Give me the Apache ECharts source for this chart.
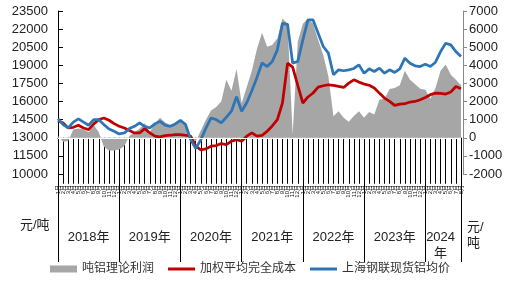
<!DOCTYPE html>
<html>
<head>
<meta charset="utf-8">
<script src="https://cdn.jsdelivr.net/npm/echarts@6/dist/echarts.min.js"></script>
<style>html,body{margin:0;padding:0;background:#fff}#c{width:511px;height:285px}</style>
</head>
<body>
<div id="c"></div>
<script>
// categories: monthly, 2018-01 .. 2024-08
const startYear = 2018, monthCount = 80;
const categories = [];
for (let k = 0; k < monthCount; k++) {
  const y = startYear + Math.floor(k / 12), m = (k % 12) + 1;
  categories.push(y + '-' + (m < 10 ? '0' + m : m));
}
const yearLabels = ['2018年', '2019年', '2020年', '2021年', '2022年', '2023年', '2024\n年'];
const leftTicks = { min: 10000, max: 23500, step: 1500 };
const rightTicks = { min: -2000, max: 7000, step: 1000 };

// 吨铝理论利润 (right axis)
const profit = [
  100, -220, -180, 460, 510, 460, 310, 700, 300, -500, -700, -700, -650, -450, 100, 300, 500, 800, 300, 800,
  1100, 850, 700, 750, 900, 850, 100, -200, 400, 1000, 1500, 1700, 2000, 3200, 2600, 3800, 1900, 2800, 3700, 4900,
  5800, 5030, 5120, 5490, 6590, 6300, 200, 5300, 6300, 6590, 6300, 5400, 4570, 3400, 1190, 1460, 1100, 880, 1200, 1460,
  1100, 1430, 1280, 2100, 2160, 2700, 2750, 2900, 3700, 3200, 2960, 2710, 2650, 2160, 2750, 3700, 4050, 3480, 3200, 2900
];
// 加权平均完全成本 (left axis)
const cost = [
  14420, 14230, 13815, 13870, 14040, 13815, 13680, 14150, 14500, 14640, 14450, 14170, 13950, 13815, 13600, 13400, 13400, 13760, 13400, 13130,
  13080, 13180, 13210, 13260, 13260, 13210, 13130, 12300, 12000, 12080, 12300, 12350, 12520, 12440, 12710, 12850, 12710, 13130, 13400, 13130,
  13200, 13540, 13980, 14500, 15880, 19180, 18850, 17340, 15880, 16380, 16710, 17200, 17310, 17390, 17340, 17250, 17170, 17530, 17800, 17610,
  17450, 17350, 17120, 16700, 16290, 16010, 15680, 15790, 15820, 15960, 16010, 16150, 16340, 16570, 16700, 16670, 16620, 16790, 17250, 17060
];
// 上海钢联现货铝均价 (left axis)
const price = [
  14560, 14090, 13815, 14300, 14560, 14300, 14040, 14500, 14500, 14090, 13730, 13540, 13320, 13400, 13760, 13950, 14230, 13950, 13815, 14150,
  14360, 14040, 13950, 14150, 14450, 14100, 12850, 12100, 12850, 13800, 14640, 14500, 14230, 14700, 15200, 16400, 15200, 15900, 16900, 18000,
  19200, 18900, 19320, 20280, 22480, 22400, 19180, 19320, 21110, 22760, 22760, 21660, 20560, 20010, 18220, 18630, 18550, 18630, 18740, 19040,
  18350, 18710, 18490, 18770, 18350, 18630, 18410, 18710, 19590, 19180, 18960, 18900, 19100, 18900, 19260, 20140, 20830, 20690, 20140, 19730
];

const FONT = '"Liberation Sans", Arial, "Noto Sans CJK SC", sans-serif';
const LINE_ICON = 'path://M0,0 L27,0 L27,3 L0,3 Z';
const plain = function (v) { return String(v); };
const chart = echarts.init(document.getElementById('c'), null, { renderer: 'canvas' });
const option = {
  animation: false,
  backgroundColor: '#fff',
  textStyle: { fontFamily: FONT },
  grid: { left: 58, right: 50, top: 11, bottom: 111, containLabel: false },
  legend: {
    left: 45, top: 258, itemWidth: 27, itemHeight: 7, itemGap: 14,
    textStyle: { fontSize: 12, color: '#333', fontFamily: FONT },
    data: [
      { name: '吨铝理论利润', icon: 'rect' },
      { name: '加权平均完全成本', icon: LINE_ICON },
      { name: '上海钢联现货铝均价', icon: LINE_ICON }
    ]
  },
  xAxis: [
    {
      type: 'category', data: categories, boundaryGap: false, position: 'bottom',
      axisLine: { show: true, lineStyle: { color: '#000', width: 1 } },
      axisTick: { show: true, interval: 0, length: 46, lineStyle: { color: '#000', width: 1 } },
      axisLabel: {
        interval: 0, rotate: 90, margin: 11, fontSize: 6, color: '#111',
        formatter: function (v) { return parseInt(v.split('-')[1], 10) + '月'; }
      },
      splitLine: { show: false }
    },
    {
      type: 'category', data: categories, boundaryGap: false, position: 'bottom', offset: 0,
      axisLine: { show: false },
      axisTick: {
        show: true, length: 88, lineStyle: { color: '#000', width: 1 },
        interval: function (i) { return i % 12 === 0 || i === monthCount - 1; }
      },
      axisLabel: {
        margin: 55, fontSize: 13, color: '#222', lineHeight: 16,
        interval: function (i) { return i % 12 === 6 || i === 75; },
        formatter: function (v) { return yearLabels[parseInt(v.slice(0, 4), 10) - startYear]; }
      },
      splitLine: { show: false }
    }
  ],
  yAxis: [
    {
      type: 'value', position: 'left', min: leftTicks.min, max: leftTicks.max, interval: leftTicks.step,
      axisLine: { show: true, lineStyle: { color: '#000', width: 1 } },
      axisTick: { show: true, inside: true, length: 5, lineStyle: { color: '#000' } },
      axisLabel: { fontSize: 13, color: '#222', margin: 10, formatter: plain },
      splitLine: { show: false }
    },
    {
      type: 'value', position: 'right', offset: 2, min: rightTicks.min, max: rightTicks.max, interval: rightTicks.step,
      axisLine: { show: true, lineStyle: { color: '#888', width: 1 } },
      axisTick: { show: true, inside: false, length: 4, lineStyle: { color: '#888' } },
      axisLabel: { fontSize: 13, color: '#222', margin: 6, formatter: plain },
      splitLine: { show: false }
    }
  ],
  graphic: [
    { type: 'text', left: 20, top: 219, style: { text: '元/吨', fontSize: 13, fill: '#222', fontFamily: FONT } },
    { type: 'text', left: 467, top: 219, style: { text: '元/\n吨', fontSize: 13, lineHeight: 16, fill: '#222', fontFamily: FONT } }
  ],
  series: [
    {
      name: '吨铝理论利润', type: 'line', xAxisIndex: 0, yAxisIndex: 1, data: profit,
      symbol: 'none', color: '#A6A6A6',
      lineStyle: { width: 0, color: '#A6A6A6' },
      areaStyle: { color: '#A6A6A6', opacity: 1, origin: 0 },
      markLine: {
        silent: true, symbol: 'none', label: { show: false },
        lineStyle: { color: '#fff', width: 1, type: 'solid' },
        data: [{ yAxis: 0 }]
      },
      z: 1
    },
    {
      name: '加权平均完全成本', type: 'line', xAxisIndex: 0, yAxisIndex: 0, data: cost,
      symbol: 'none', color: '#C00000',
      lineStyle: { width: 2.75, color: '#C00000' }, z: 3
    },
    {
      name: '上海钢联现货铝均价', type: 'line', xAxisIndex: 0, yAxisIndex: 0, data: price,
      symbol: 'none', color: '#2E75B6',
      lineStyle: { width: 2.75, color: '#2E75B6' }, z: 4
    }
  ]
};
chart.setOption(option);
</script>
</body>
</html>
